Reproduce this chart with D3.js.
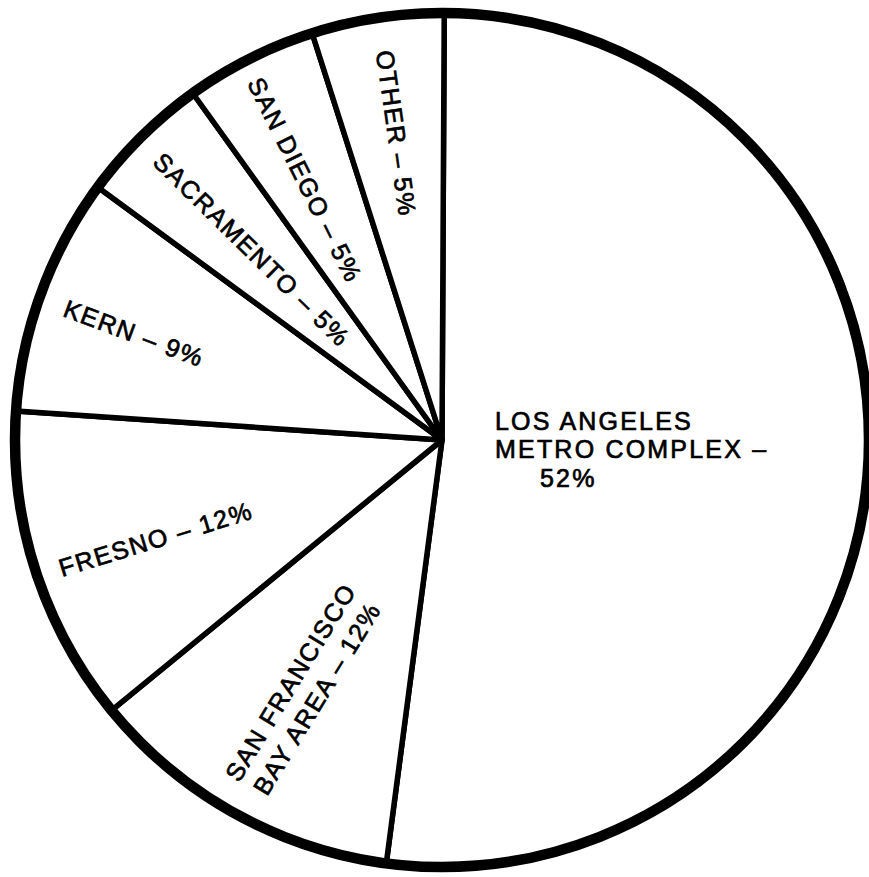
<!DOCTYPE html>
<html>
<head>
<meta charset="utf-8">
<script src="https://cdn.jsdelivr.net/npm/d3@7"></script>
<style>
  html, body { margin: 0; padding: 0; background: #fff; }
  svg { display: block; }
  text { font-family: "Liberation Sans", Arial, Helvetica, sans-serif; fill: #000; stroke: #000; stroke-width: 0.7px; }
</style>
</head>
<body>
<svg id="chart" width="869" height="877"></svg>
<script>
// Share of total by region (percent), clockwise from 12 o'clock
const regions = ["LOS ANGELES METRO COMPLEX", "SAN FRANCISCO BAY AREA", "FRESNO", "KERN", "SACRAMENTO", "SAN DIEGO", "OTHER"];
const shares = [52, 12, 12, 9, 5, 5, 5];
// Text printed in each slice (one entry per line)
const labelLines = [
  ["LOS ANGELES", "METRO COMPLEX \u2013", "52%"],
  ["SAN FRANCISCO", "BAY AREA \u2013 12%"],
  ["FRESNO \u2013 12%"],
  ["KERN \u2013 9%"],
  ["SACRAMENTO \u2013 5%"],
  ["SAN DIEGO \u2013 5%"],
  ["OTHER \u2013 5%"]
];

const width = 869, height = 877;
const cx = 442, cy = 440, radius = 427;
const rot0 = 0.3 * Math.PI / 180;

const svg = d3.select("#chart");
const g = svg.append("g").attr("transform", `translate(${cx},${cy})`);

const data = regions.map((name, i) => ({ name, value: shares[i], lines: labelLines[i] }));

const pie = d3.pie()
  .sort(null)
  .value(d => d.value)
  .startAngle(rot0)
  .endAngle(2 * Math.PI + rot0);

const arc = d3.arc().innerRadius(0).outerRadius(radius);
const arcs = pie(data);

// Slices: white fill, black dividing rules
g.selectAll("path.slice")
  .data(arcs)
  .join("path")
  .attr("class", "slice")
  .attr("d", arc)
  .attr("fill", "#fff")
  .attr("stroke", "#000")
  .attr("stroke-width", 5.5)
  .attr("stroke-linejoin", "round");

// Heavy outer rim
g.append("circle")
  .attr("r", radius)
  .attr("fill", "none")
  .attr("stroke", "#000")
  .attr("stroke-width", 10.5);

// Label placement: polar position (degrees clockwise from top, radius) and text rotation
const labelPlacement = [
  null,
  { angle: 208.9, r: 286, rotate: -58.5, lineGap: 31 },
  { angle: 250.9, r: 303, rotate: -17 },
  { angle: 289.1, r: 326, rotate: 20.5 },
  { angle: 315.0, r: 269, rotate: 44.5 },
  { angle: 332.2, r: 294, rotate: 63.5 },
  { angle: 351.5, r: 310, rotate: 82 }
];

function polar(angleDeg, r) {
  const a = angleDeg * Math.PI / 180;
  return [r * Math.sin(a), -r * Math.cos(a)];
}

arcs.forEach((a, i) => {
  const p = labelPlacement[i];
  if (!p) return;
  const [x, y] = polar(p.angle, p.r);
  const t = g.append("text")
    .attr("transform", `translate(${x},${y}) rotate(${p.rotate})`)
    .attr("text-anchor", "middle")
    .attr("font-size", 25)
    .attr("letter-spacing", 1.6);
  const n = a.data.lines.length;
  const gap = p.lineGap || 30;
  a.data.lines.forEach((line, j) => {
    t.append("tspan")
      .attr("x", 0)
      .attr("y", (j - (n - 1) / 2) * gap)
      .attr("dy", "0.35em")
      .text(line);
  });
});

// Los Angeles label, set flush-left inside the large slice
const la = arcs[0].data.lines;
const laOffsets = [[53, -10], [53, 18], [98, 47]];
const laText = g.append("text")
  .attr("font-size", 25)
  .attr("letter-spacing", 2.2);
la.forEach((line, j) => {
  laText.append("tspan")
    .attr("x", laOffsets[j][0])
    .attr("y", laOffsets[j][1])
    .text(line);
});
</script>
</body>
</html>
